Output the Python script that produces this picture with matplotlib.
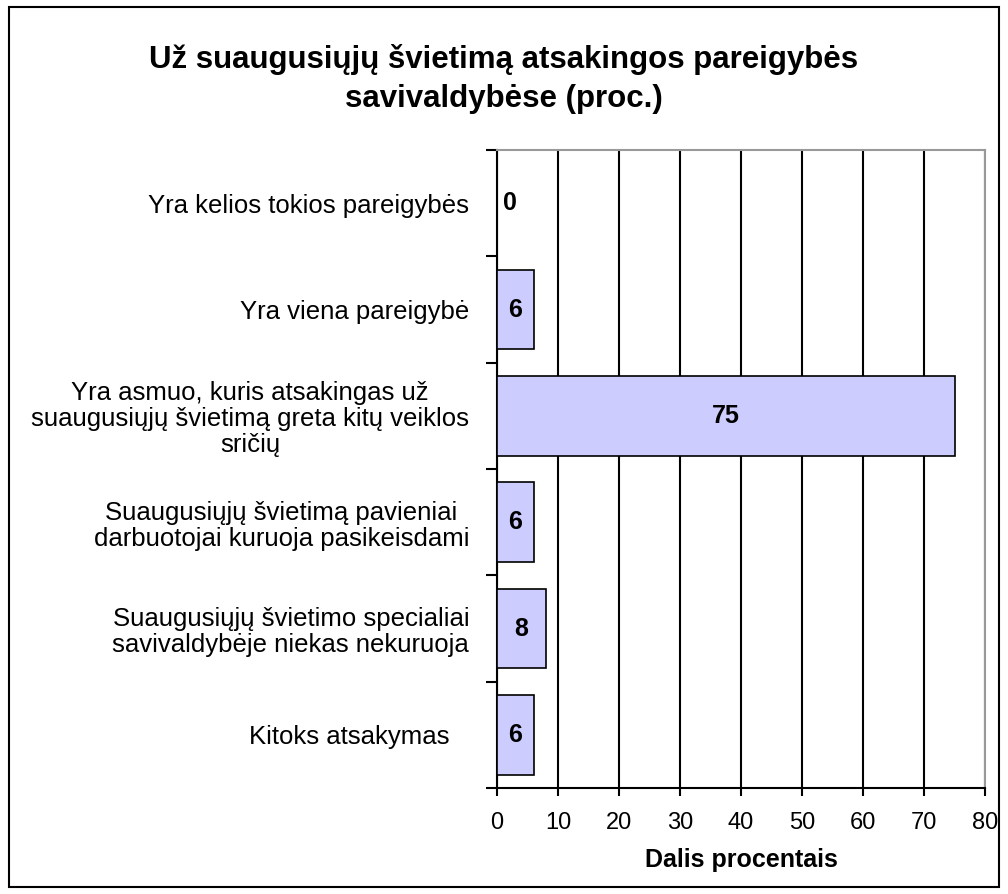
import matplotlib
matplotlib.use("Agg")
import matplotlib.pyplot as plt
from matplotlib.patches import Rectangle
import numpy as np

plt.rcParams['font.family'] = ['Liberation Sans', 'DejaVu Sans']

title = "Už suaugusiųjų švietimą atsakingos pareigybės\nsavivaldybėse (proc.)"
categories = [
    "Yra kelios tokios pareigybės",
    "Yra viena pareigybė",
    "Yra asmuo, kuris atsakingas už\nsuaugusiųjų švietimą greta kitų veiklos\nsričių",
    "Suaugusiųjų švietimą pavieniai\ndarbuotojai kuruoja pasikeisdami",
    "Suaugusiųjų švietimo specialiai\nsavivaldybėje niekas nekuruoja",
    "Kitoks atsakymas",
]
values = [0, 6, 75, 6, 8, 6]
xlabel = "Dalis procentais"
xticks = [0, 10, 20, 30, 40, 50, 60, 70, 80]

fig = plt.figure(figsize=(10.08, 8.94), dpi=100)
fig.patches.append(Rectangle((9/1008, 1-887/894), 990/1008, 880/894, transform=fig.transFigure,
                             fill=False, edgecolor='black', linewidth=1.5))
ax = fig.add_axes([497/1008, 1-788/894, 488/1008, 638/894])

y = np.arange(len(categories))
ax.barh(y, values, height=0.75, color='#CCCCFF', edgecolor='black', linewidth=1.2, zorder=3)
ax.set_xlim(0, 80)
ax.set_ylim(len(categories)-0.5, -0.5)
ax.set_xticks(xticks)
ax.xaxis.grid(True, color='black', linewidth=1.5, zorder=0)
ax.set_axisbelow(True)
ax.tick_params(axis='x', labelsize=17, length=6, width=1.5, direction='out', pad=11)
ax.set_yticks(y)
ax.set_yticklabels(categories, fontsize=18.5, multialignment='center', linespacing=1.1)
ax.tick_params(axis='y', length=0, pad=20)
# shift the last label a little left like the original
ax.get_yticklabels()[-1].set_text(categories[-1])
for lbl in ax.get_yticklabels():
    if lbl.get_text() == "Kitoks atsakymas":
        lbl.set_x(-0.04)
ax.set_yticks(np.arange(-0.5, len(categories), 1), minor=True)
ax.tick_params(axis='y', which='minor', length=8, width=1.5, direction='out')
for s in ['top', 'right']:
    ax.spines[s].set_color('#999999')
    ax.spines[s].set_linewidth(1.5)
for s in ['left', 'bottom']:
    ax.spines[s].set_color('black')
    ax.spines[s].set_linewidth(1.5)

for yi, v in zip(y, values):
    xpos = v / 2 if v > 0 else 1.0
    ax.text(xpos, yi, f"{v}", ha='center' if v > 0 else 'left', va='center',
            fontsize=18, fontweight='bold', zorder=4)

ax.set_xlabel(xlabel, fontsize=18, fontweight='bold', labelpad=10)
fig.text(0.5, 1-79/894, title, ha='center', va='center', fontsize=22.5, fontweight='bold',
         linespacing=1.4)

fig.savefig("out.png", dpi=100)
